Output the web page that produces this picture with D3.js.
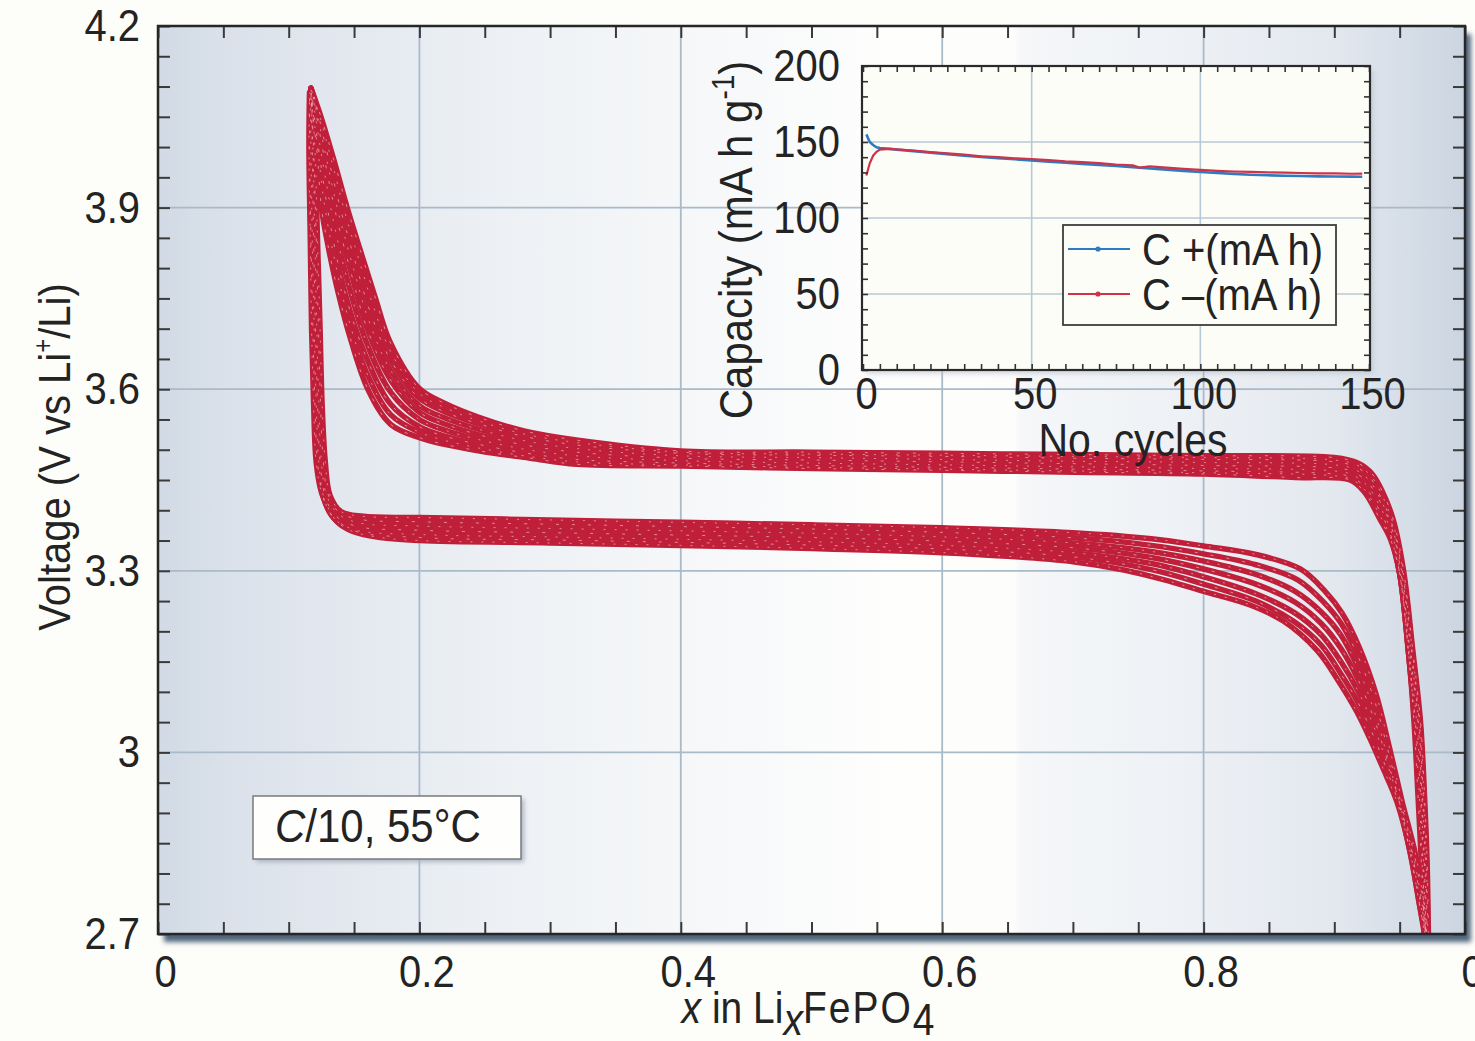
<!DOCTYPE html>
<html><head><meta charset="utf-8">
<script src="https://cdn.jsdelivr.net/npm/d3@7"></script>
<style>
html,body{margin:0;padding:0;background:#fdfdf9;}
svg{display:block;}
text{font-family:"Liberation Sans",Arial,Helvetica,sans-serif;fill:#232323;}
.tall{transform-box:fill-box;transform-origin:center;transform:scaleY(1.12);}
</style></head><body>
<svg id="c" width="1475" height="1041"></svg>
<script>
// ---------- main chart data ----------
const xTicks = [0, 0.2, 0.4, 0.6, 0.8, 1.0];
const xTickLabels = ["0", "0.2", "0.4", "0.6", "0.8", "0"];
const yTicks = [2.7, 3.0, 3.3, 3.6, 3.9, 4.2];
const yTickLabels = ["2.7", "3", "3.3", "3.6", "3.9", "4.2"];
const xGrid = [0.2, 0.4, 0.6, 0.8];
const yGrid = [3.0, 3.3, 3.6, 3.9];

// charge branches (x descending), [x, V]
const charge0 = [[0.972,2.70],[0.971,2.82],[0.969,2.93],[0.966,3.05],[0.960,3.17],[0.953,3.30],[0.945,3.385],[0.937,3.43],[0.929,3.460],[0.918,3.478],[0.90,3.487],[0.80,3.490],[0.70,3.492],[0.60,3.494],[0.50,3.496],[0.40,3.498],[0.32,3.516],[0.28,3.531],[0.245,3.554],[0.22,3.576],[0.20,3.601],[0.178,3.676],[0.166,3.753],[0.155,3.828],[0.145,3.898],[0.134,3.983],[0.125,4.048],[0.117,4.098]];
const charge05 = [[0.9715,2.70],[0.9705,2.82],[0.9685,2.93],[0.9655,3.05],[0.9595,3.17],[0.9525,3.30],[0.9445,3.381],[0.9365,3.425],[0.928,3.457],[0.917,3.475],[0.90,3.483],[0.80,3.487],[0.70,3.489],[0.60,3.491],[0.50,3.493],[0.40,3.496],[0.32,3.512],[0.28,3.526],[0.245,3.548],[0.22,3.569],[0.20,3.593],[0.178,3.662],[0.164,3.742],[0.153,3.819],[0.1425,3.896],[0.132,3.984],[0.124,4.049],[0.117,4.097]];
const charge1 = [[0.971,2.70],[0.970,2.82],[0.968,2.93],[0.965,3.05],[0.959,3.17],[0.952,3.30],[0.944,3.378],[0.936,3.42],[0.927,3.455],[0.916,3.472],[0.90,3.480],[0.80,3.484],[0.70,3.486],[0.60,3.489],[0.50,3.491],[0.40,3.494],[0.32,3.508],[0.28,3.522],[0.245,3.543],[0.22,3.562],[0.20,3.585],[0.178,3.648],[0.162,3.730],[0.151,3.810],[0.140,3.895],[0.130,3.985],[0.123,4.050],[0.117,4.097]];
const charge15 = [[0.9705,2.70],[0.9695,2.815],[0.9675,2.93],[0.9645,3.05],[0.9585,3.167],[0.9515,3.299],[0.944,3.374],[0.936,3.415],[0.9265,3.45],[0.915,3.468],[0.90,3.475],[0.80,3.479],[0.70,3.481],[0.60,3.484],[0.50,3.487],[0.40,3.490],[0.32,3.502],[0.28,3.515],[0.245,3.534],[0.22,3.552],[0.20,3.573],[0.178,3.631],[0.161,3.715],[0.1495,3.80],[0.138,3.892],[0.1285,3.985],[0.122,4.052],[0.117,4.096]];
const charge2 = [[0.970,2.70],[0.969,2.81],[0.967,2.93],[0.964,3.05],[0.958,3.165],[0.951,3.298],[0.944,3.37],[0.936,3.41],[0.926,3.445],[0.914,3.464],[0.90,3.470],[0.80,3.474],[0.70,3.477],[0.60,3.480],[0.50,3.483],[0.40,3.486],[0.32,3.496],[0.28,3.508],[0.245,3.525],[0.22,3.542],[0.20,3.562],[0.178,3.615],[0.160,3.700],[0.148,3.790],[0.136,3.890],[0.127,3.985],[0.121,4.055],[0.117,4.095]];
const charge25 = [[0.9695,2.70],[0.9685,2.805],[0.9665,2.93],[0.963,3.05],[0.9575,3.162],[0.9505,3.297],[0.9435,3.365],[0.9355,3.404],[0.925,3.441],[0.9135,3.459],[0.90,3.465],[0.80,3.469],[0.70,3.472],[0.60,3.475],[0.50,3.478],[0.40,3.482],[0.32,3.490],[0.28,3.501],[0.245,3.517],[0.22,3.532],[0.20,3.550],[0.178,3.595],[0.159,3.680],[0.1455,3.775],[0.134,3.880],[0.1255,3.982],[0.120,4.057],[0.117,4.094]];
const charge3 = [[0.969,2.70],[0.968,2.80],[0.966,2.93],[0.962,3.05],[0.957,3.16],[0.950,3.296],[0.943,3.36],[0.935,3.398],[0.924,3.437],[0.913,3.455],[0.90,3.460],[0.80,3.465],[0.70,3.468],[0.60,3.471],[0.50,3.474],[0.40,3.478],[0.32,3.484],[0.28,3.495],[0.245,3.509],[0.22,3.522],[0.20,3.538],[0.178,3.575],[0.158,3.660],[0.143,3.760],[0.132,3.870],[0.124,3.980],[0.119,4.060],[0.117,4.093]];
const charge35 = [[0.969,2.70],[0.9675,2.80],[0.965,2.93],[0.9615,3.05],[0.957,3.16],[0.950,3.2955],[0.943,3.356],[0.935,3.391],[0.9235,3.433],[0.9125,3.452],[0.90,3.457],[0.80,3.462],[0.70,3.465],[0.60,3.468],[0.50,3.471],[0.40,3.475],[0.32,3.480],[0.28,3.490],[0.245,3.503],[0.22,3.515],[0.20,3.529],[0.178,3.558],[0.1595,3.628],[0.1455,3.718],[0.135,3.815],[0.127,3.910],[0.123,3.983],[0.1185,4.060],[0.117,4.0925]];
const charge4 = [[0.969,2.70],[0.967,2.80],[0.964,2.93],[0.961,3.05],[0.957,3.16],[0.950,3.295],[0.943,3.352],[0.935,3.385],[0.923,3.430],[0.912,3.450],[0.87,3.454],[0.80,3.460],[0.70,3.463],[0.60,3.466],[0.50,3.469],[0.40,3.473],[0.32,3.476],[0.285,3.486],[0.246,3.498],[0.221,3.508],[0.20,3.520],[0.178,3.542],[0.161,3.598],[0.148,3.678],[0.138,3.758],[0.130,3.838],[0.125,3.900],[0.122,3.985],[0.118,4.060],[0.117,4.092]];

// discharge branches (x ascending), [x, V]
const discharge0 = [[0.117,4.09],[0.120,4.00],[0.122,3.85],[0.124,3.70],[0.1255,3.58],[0.128,3.48],[0.1316,3.425],[0.140,3.398],[0.157,3.390],[0.20,3.388],[0.30,3.384],[0.40,3.380],[0.50,3.376],[0.60,3.371],[0.70,3.363],[0.76,3.353],[0.80,3.341],[0.84,3.327],[0.874,3.303],[0.893,3.266],[0.906,3.230],[0.919,3.174],[0.932,3.096],[0.942,3.010],[0.952,2.918],[0.962,2.833],[0.968,2.76],[0.971,2.70]];
const discharge05 = [[0.117,4.09],[0.119,4.00],[0.121,3.85],[0.1228,3.70],[0.1243,3.58],[0.1265,3.48],[0.1303,3.425],[0.1385,3.397],[0.1545,3.385],[0.20,3.381],[0.30,3.377],[0.40,3.373],[0.50,3.369],[0.60,3.3635],[0.70,3.3545],[0.76,3.342],[0.80,3.328],[0.84,3.310],[0.872,3.285],[0.8915,3.249],[0.9055,3.212],[0.9185,3.157],[0.931,3.084],[0.941,3.004],[0.951,2.917],[0.961,2.833],[0.9675,2.757],[0.9705,2.70]];
const discharge1 = [[0.117,4.09],[0.1185,4.00],[0.120,3.85],[0.1215,3.70],[0.123,3.58],[0.125,3.48],[0.129,3.425],[0.137,3.396],[0.152,3.380],[0.20,3.374],[0.30,3.370],[0.40,3.366],[0.50,3.362],[0.60,3.356],[0.70,3.346],[0.76,3.332],[0.80,3.316],[0.84,3.294],[0.87,3.266],[0.89,3.232],[0.905,3.194],[0.918,3.140],[0.930,3.072],[0.940,2.998],[0.950,2.916],[0.960,2.833],[0.967,2.753],[0.970,2.70]];
const discharge15 = [[0.117,4.09],[0.118,4.00],[0.119,3.85],[0.1205,3.70],[0.122,3.58],[0.124,3.48],[0.128,3.4225],[0.1355,3.392],[0.151,3.374],[0.20,3.367],[0.30,3.363],[0.40,3.359],[0.50,3.355],[0.60,3.349],[0.70,3.338],[0.76,3.322],[0.80,3.303],[0.84,3.278],[0.87,3.248],[0.89,3.213],[0.905,3.172],[0.918,3.121],[0.930,3.058],[0.940,2.991],[0.950,2.916],[0.9595,2.833],[0.9665,2.7515],[0.970,2.70]];
const discharge2 = [[0.1165,4.09],[0.117,4.00],[0.118,3.85],[0.1195,3.70],[0.121,3.58],[0.123,3.48],[0.127,3.42],[0.134,3.388],[0.150,3.368],[0.20,3.360],[0.30,3.356],[0.40,3.352],[0.50,3.348],[0.60,3.342],[0.70,3.330],[0.76,3.312],[0.80,3.290],[0.84,3.262],[0.87,3.230],[0.89,3.194],[0.905,3.150],[0.918,3.102],[0.930,3.044],[0.940,2.984],[0.950,2.916],[0.959,2.833],[0.966,2.750],[0.970,2.70]];
const discharge25 = [[0.116,4.09],[0.116,4.00],[0.117,3.85],[0.1185,3.70],[0.120,3.58],[0.122,3.48],[0.126,3.425],[0.132,3.395],[0.1495,3.3665],[0.20,3.355],[0.30,3.351],[0.40,3.347],[0.50,3.3425],[0.60,3.336],[0.70,3.323],[0.76,3.302],[0.80,3.278],[0.84,3.250],[0.87,3.215],[0.89,3.177],[0.905,3.130],[0.918,3.083],[0.930,3.027],[0.940,2.972],[0.950,2.910],[0.9585,2.829],[0.966,2.74],[0.9695,2.70]];
const discharge3 = [[0.116,4.09],[0.1155,4.00],[0.1165,3.85],[0.1175,3.70],[0.119,3.58],[0.121,3.48],[0.125,3.43],[0.130,3.405],[0.137,3.381],[0.149,3.365],[0.170,3.355],[0.20,3.350],[0.30,3.346],[0.40,3.342],[0.50,3.337],[0.60,3.330],[0.65,3.324],[0.70,3.315],[0.74,3.301],[0.77,3.285],[0.80,3.266],[0.835,3.244],[0.861,3.217],[0.887,3.168],[0.904,3.115],[0.917,3.068],[0.927,3.024],[0.937,2.975],[0.948,2.918],[0.958,2.836],[0.965,2.750],[0.969,2.70]];

const chargeCycles = [charge0, charge05, charge1, charge15, charge2, charge25, charge3, charge35, charge4];
const dischargeCycles = [discharge0, discharge05, discharge1, discharge15, discharge2, discharge25, discharge3];

// ---------- inset data ----------
const insetXTicks = [0, 50, 100, 150];
const insetYTicks = [0, 50, 100, 150, 200];
const insetXGrid = [50, 100];
const insetYGrid = [50, 100, 150];
const capPlus = [[1,155],[2,150],[3,148],[4,146.5],[5,146],[8,145.5],[10,145],[15,144],[20,143],[25,142],[30,141],[35,140.2],[40,139.4],[45,138.6],[50,137.8],[55,137],[60,136.3],[65,135.6],[70,134.9],[75,134.2],[80,133.4],[85,132.6],[90,131.8],[95,131],[100,130.3],[105,129.6],[110,129],[115,128.5],[120,128.1],[125,127.8],[130,127.6],[135,127.4],[140,127.3],[145,127.2],[148,127.1]];
const capMinus = [[1,128],[2,136],[3,141],[4,143.5],[5,145],[8,145.5],[10,145.2],[15,144.3],[20,143.4],[25,142.5],[30,141.7],[35,140.6],[40,140.1],[45,139.3],[50,138.8],[55,138.1],[60,137.2],[65,136.8],[70,136.1],[75,135.2],[80,134.6],[82,133.2],[85,134.0],[90,133.1],[95,132.3],[100,131.6],[105,131],[110,130.6],[115,130.4],[120,130],[125,129.8],[130,129.6],[135,129.4],[140,129.3],[145,129.1],[148,129.2]];
const legendLabels = ["C +(mA h)", "C \u2013(mA h)"];
const insetColors = ["#2f7bbf", "#cf3249"];

// ---------- drawing ----------
const svg = d3.select("#c");
const W = 1475, H = 1041;
svg.append("rect").attr("width", W).attr("height", H).attr("fill", "#fdfdf9");

const x = d3.scaleLinear().domain([0, 1]).range([158, 1465]);
const y = d3.scaleLinear().domain([2.7, 4.2]).range([934, 26]);
const L = 158, R = 1465, T = 26, B = 934;

const defs = svg.append("defs");
const grad = defs.append("linearGradient").attr("id", "bg").attr("x1", 0).attr("x2", 1).attr("y1", 0).attr("y2", 0);
[[0,"#d1dae5"],[0.05,"#dae1ea"],[0.15,"#e4e9f0"],[0.25,"#ecf0f4"],[0.38,"#f4f6f8"],[0.5,"#fafbfb"],[0.56,"#fefefd"],[0.655,"#fdfdfc"],[0.66,"#f5f7f9"],[0.78,"#eef1f5"],[0.9,"#e3e8ef"],[1,"#cbd5e1"]]
  .forEach(s => grad.append("stop").attr("offset", s[0]).attr("stop-color", s[1]));
const blur = defs.append("filter").attr("id", "blur").attr("x", "-5%").attr("y", "-5%").attr("width", "110%").attr("height", "110%");
blur.append("feGaussianBlur").attr("stdDeviation", 2.5);
defs.append("clipPath").attr("id", "plotclip").append("rect").attr("x", L).attr("y", T).attr("width", R - L).attr("height", B - T);

// shadow + background
svg.append("rect").attr("x", L + 6).attr("y", T + 8).attr("width", R - L).attr("height", B - T)
  .attr("fill", "#4f657c").attr("filter", "url(#blur)");
svg.append("rect").attr("x", L).attr("y", T).attr("width", R - L).attr("height", B - T).attr("fill", "url(#bg)");

// grid
const grid = svg.append("g").attr("stroke", "#a9bac8").attr("stroke-width", 1.8);
grid.selectAll(".gx").data(xGrid).join("line").attr("x1", d => x(d)).attr("x2", d => x(d)).attr("y1", T).attr("y2", B);
grid.selectAll(".gy").data(yGrid).join("line").attr("y1", d => y(d)).attr("y2", d => y(d)).attr("x1", L).attr("x2", R);

// curves
const line = d3.line().x(d => x(d[0])).y(d => y(d[1])).curve(d3.curveCatmullRom.alpha(0.5));
const curves = svg.append("g").attr("clip-path", "url(#plotclip)").attr("fill", "none");
const allCycles = chargeCycles.concat(dischargeCycles);
curves.selectAll("path.cyc").data(allCycles).join("path").attr("class", "cyc")
  .attr("d", line).attr("stroke", "#c01f3a").attr("stroke-width", 5.5).attr("stroke-linejoin", "round").attr("stroke-linecap", "round");
curves.selectAll("path.spk").data(allCycles).join("path").attr("class", "spk")
  .attr("d", line).attr("stroke", "#f4d3d8").attr("stroke-width", 0.9)
  .attr("stroke-dasharray", (d, i) => i % 2 ? "2,9" : "3,13").attr("stroke-dashoffset", (d, i) => i * 3).attr("opacity", 0.65);

// ticks (inward, all sides)
const minorX = d3.range(0, 1.0001, 0.05);
const minorY = d3.range(2.7, 4.2001, 0.05);
const tk = svg.append("g");
tk.append("g").attr("transform", `translate(0,${B})`).call(d3.axisBottom(x).tickValues(minorX).tickSize(-12).tickFormat(""));
tk.append("g").attr("transform", `translate(0,${T})`).call(d3.axisTop(x).tickValues(minorX).tickSize(-12).tickFormat(""));
tk.append("g").attr("transform", `translate(${L},0)`).call(d3.axisLeft(y).tickValues(minorY).tickSize(-12).tickFormat(""));
tk.append("g").attr("transform", `translate(${R},0)`).call(d3.axisRight(y).tickValues(minorY).tickSize(-12).tickFormat(""));
tk.selectAll(".domain").remove();
tk.selectAll(".tick line").attr("stroke", "#3a3a3a").attr("stroke-width", 2);

// frame
svg.append("rect").attr("x", L).attr("y", T).attr("width", R - L).attr("height", B - T)
  .attr("fill", "none").attr("stroke", "#262626").attr("stroke-width", 2.5);

// tick labels
const xl = svg.append("g").attr("transform", `translate(0,${B})`)
  .call(d3.axisBottom(x).tickValues(xTicks).tickSize(0).tickPadding(23).tickFormat((d, i) => xTickLabels[i]));
const yl = svg.append("g").attr("transform", `translate(${L},0)`)
  .call(d3.axisLeft(y).tickValues(yTicks).tickSize(0).tickPadding(18).tickFormat((d, i) => yTickLabels[i]));
[xl, yl].forEach(g => { g.select(".domain").remove(); g.selectAll("text").attr("font-size", 40).attr("fill", "#232323").attr("font-family", null).attr("class", "tall"); });
xl.selectAll("text").attr("dx", 7);

// axis titles
const xt = svg.append("text").attr("x", 808).attr("y", 1022).attr("text-anchor", "middle").attr("font-size", 39).attr("class", "tall");
xt.append("tspan").attr("font-style", "italic").text("x");
xt.append("tspan").text(" in Li");
xt.append("tspan").attr("font-style", "italic").attr("dy", 11).text("x");
xt.append("tspan").attr("dy", -11).attr("letter-spacing", 2).text("FePO");
xt.append("tspan").attr("dy", 11).text("4");

const yt = svg.append("g").attr("transform", "translate(68,457) rotate(-90)")
  .append("text").attr("text-anchor", "middle").attr("font-size", 40).attr("class", "tall");
yt.append("tspan").text("Voltage (V vs Li");
yt.append("tspan").attr("font-size", 24).attr("dy", -16).text("+");
yt.append("tspan").attr("dy", 16).text("/Li)");

// annotation box
svg.append("rect").attr("x", 256).attr("y", 799).attr("width", 268).attr("height", 63).attr("fill", "#aab4c2").attr("filter", "url(#blur)");
svg.append("rect").attr("x", 253).attr("y", 796).attr("width", 268).attr("height", 63).attr("fill", "#fefefd").attr("stroke", "#7a7a7a").attr("stroke-width", 1.5);
const ann = svg.append("text").attr("x", 275).attr("y", 840).attr("font-size", 42).attr("class", "tall");
ann.append("tspan").attr("font-style", "italic").text("C");
ann.append("tspan").text("/10, 55\u00B0C");

// ---------- inset ----------
const ix = d3.scaleLinear().domain([0, 150]).range([863, 1369]);
const iy = d3.scaleLinear().domain([0, 200]).range([370, 66]);
const iL = 862, iR = 1370, iT = 66, iB = 370;
svg.append("rect").attr("x", iL + 4).attr("y", iT + 4).attr("width", iR - iL).attr("height", iB - iT).attr("fill", "#b9c3cf").attr("filter", "url(#blur)").attr("opacity", 0.6);
svg.append("rect").attr("x", iL).attr("y", iT).attr("width", iR - iL).attr("height", iB - iT).attr("fill", "#fdfdf8");
const ig = svg.append("g").attr("stroke", "#b7c8d6").attr("stroke-width", 1.6);
ig.selectAll(".a").data(insetXGrid).join("line").attr("x1", d => ix(d)).attr("x2", d => ix(d)).attr("y1", iT).attr("y2", iB);
ig.selectAll(".b").data(insetYGrid).join("line").attr("y1", d => iy(d)).attr("y2", d => iy(d)).attr("x1", iL).attr("x2", iR);

const iline = d3.line().x(d => ix(d[0])).y(d => iy(d[1]));
svg.append("path").datum(capPlus).attr("d", iline).attr("fill", "none").attr("stroke", insetColors[0]).attr("stroke-width", 2.6);
svg.append("path").datum(capMinus).attr("d", iline).attr("fill", "none").attr("stroke", insetColors[1]).attr("stroke-width", 2.2);

const iminX = d3.range(0, 150.001, 5);
const iminY = d3.range(0, 200.001, 10);
const itk = svg.append("g");
itk.append("g").attr("transform", `translate(0,${iB})`).call(d3.axisBottom(ix).tickValues(iminX).tickSize(-6).tickFormat(""));
itk.append("g").attr("transform", `translate(0,${iT})`).call(d3.axisTop(ix).tickValues(iminX).tickSize(-6).tickFormat(""));
itk.append("g").attr("transform", `translate(${iL},0)`).call(d3.axisLeft(iy).tickValues(iminY).tickSize(-6).tickFormat(""));
itk.append("g").attr("transform", `translate(${iR},0)`).call(d3.axisRight(iy).tickValues(iminY).tickSize(-6).tickFormat(""));
itk.selectAll(".domain").remove();
itk.selectAll(".tick line").attr("stroke", "#333").attr("stroke-width", 1.6);
svg.append("rect").attr("x", iL).attr("y", iT).attr("width", iR - iL).attr("height", iB - iT).attr("fill", "none").attr("stroke", "#2a2a2a").attr("stroke-width", 2.2);

const ixl = svg.append("g").attr("transform", `translate(0,${iB})`)
  .call(d3.axisBottom(ix).tickValues(insetXTicks).tickSize(0).tickPadding(9).tickFormat(d3.format("d")));
const iyl = svg.append("g").attr("transform", `translate(${iL},0)`)
  .call(d3.axisLeft(iy).tickValues(insetYTicks).tickSize(0).tickPadding(22).tickFormat(d3.format("d")));
[ixl, iyl].forEach(g => { g.select(".domain").remove(); g.selectAll("text").attr("font-size", 40).attr("fill", "#232323").attr("font-family", null).attr("class", "tall"); });
ixl.selectAll("text").attr("dx", 3);

svg.append("text").attr("x", 1133).attr("y", 454).attr("text-anchor", "middle").attr("font-size", 41).attr("class", "tall").text("No. cycles");
const cyt = svg.append("g").attr("transform", "translate(750,240) rotate(-90)")
  .append("text").attr("text-anchor", "middle").attr("font-size", 42).attr("class", "tall");
cyt.append("tspan").text("Capacity (mA h g");
cyt.append("tspan").attr("font-size", 28).attr("dy", -16).text("-1");
cyt.append("tspan").attr("dy", 16).text(")");

// legend
const lg = svg.append("g");
lg.append("rect").attr("x", 1063).attr("y", 225).attr("width", 273).attr("height", 100).attr("fill", "#fdfdf8").attr("stroke", "#3d3d3d").attr("stroke-width", 1.8);
const rows = [249, 294];
lg.selectAll("line.l").data(legendLabels).join("line").attr("class", "l")
  .attr("x1", 1068).attr("x2", 1130).attr("y1", (d, i) => rows[i]).attr("y2", (d, i) => rows[i])
  .attr("stroke", (d, i) => insetColors[i]).attr("stroke-width", 2.2);
lg.selectAll("circle").data(legendLabels).join("circle")
  .attr("cx", 1098).attr("cy", (d, i) => rows[i]).attr("r", 2.6).attr("fill", (d, i) => insetColors[i]);
lg.selectAll("text").data(legendLabels).join("text")
  .attr("x", 1142).attr("y", (d, i) => rows[i] + 14).attr("font-size", 40).attr("class", "tall").text(d => d);
</script>
</body></html>
